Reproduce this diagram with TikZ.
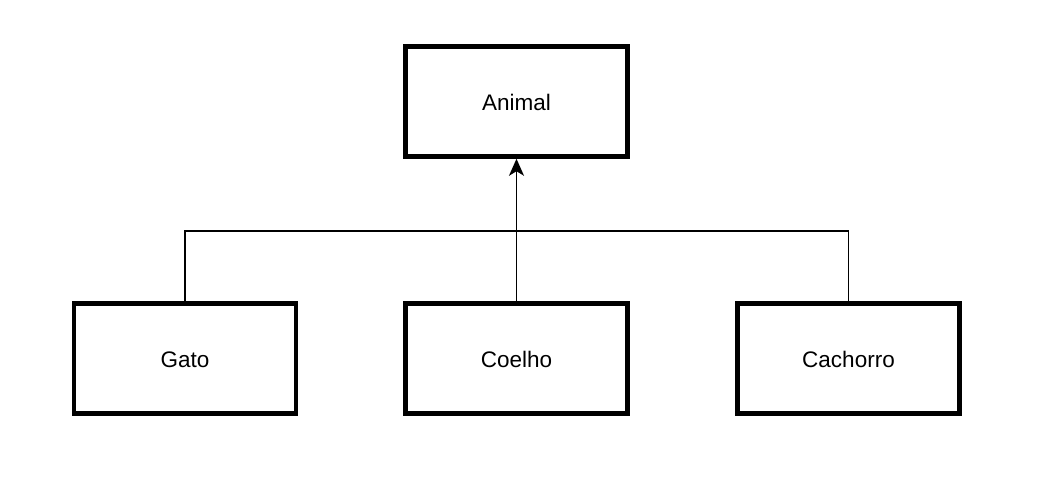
\documentclass[tikz,border=0pt]{standalone}
\usepackage{fontspec}
\setmainfont{Liberation Sans}
\usetikzlibrary{arrows.meta}
\begin{document}
\begin{tikzpicture}[x=1pt,y=-1pt,
  classbox/.style={draw=black,line width=4.5pt,minimum width=222pt,minimum height=110pt,inner sep=0pt,text height=20pt,text depth=2pt,font=\fontsize{22.5}{24}\selectfont},
  conn/.style={line width=1.5pt}]
\useasboundingbox (0,0) rectangle (1044,499);
\node[classbox] (animal) at (516.5,101.5) {Animal};
\node[classbox] (gato) at (185,358.5) {Gato};
\node[classbox] (coelho) at (516.5,358.5) {Coelho};
\node[classbox] (cachorro) at (848.5,358.5) {Cachorro};
\coordinate (jl) at (185,231);
\coordinate (jr) at (848.5,231);
\draw[conn,-{Stealth[length=17pt,width=15pt,inset=4.5pt]}] (coelho.north) -- (animal.south);
\draw[conn] (gato.north) -- (jl) -- (jr) -- (cachorro.north);
\end{tikzpicture}
\end{document}
